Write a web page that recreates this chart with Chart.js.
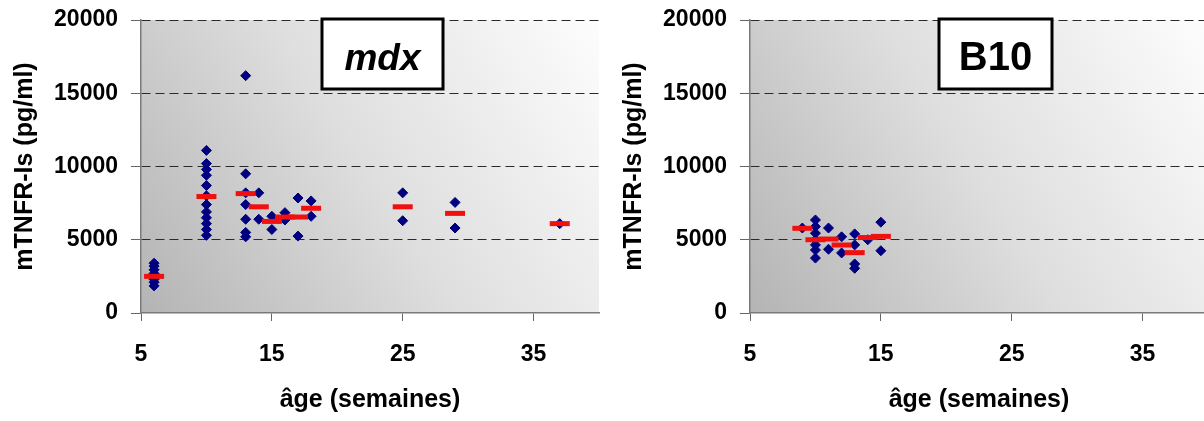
<!DOCTYPE html>
<html>
<head>
<meta charset="utf-8">
<script src="https://cdn.jsdelivr.net/npm/chart.js@4.4.1/dist/chart.umd.min.js"></script>
<style>
html,body{margin:0;padding:0;background:#fff;overflow:hidden;width:1204px;height:421px;}
canvas{position:absolute;top:0;}
#c1{left:0;}
#c2{left:600px;}
</style>
</head>
<body>
<canvas id="c1" width="600" height="421"></canvas>
<canvas id="c2" width="612" height="421"></canvas>
<script>
// ---- data ----
const xTickValues = [5, 15, 25, 35];
const yTickValues = [0, 5000, 10000, 15000, 20000];

// mdx: individual values
const mdxAges = [
  6,6,6,6,6,6,6,6,
  10,10,10,10,10,10,10,10,10,10,10,10,
  13,13,13,13,13,13,13,
  14,14,
  15,15,
  16,16,
  17,17,
  18,18,
  25,25,
  29,29,
  37
];
const mdxValues = [
  3400,3200,2950,2700,2500,2300,2100,1850,
  11100,10200,9800,9400,8700,8000,7400,6900,6500,6100,5700,5300,
  16200,9500,8200,7400,6400,5500,5200,
  8200,6400,
  6600,5700,
  6850,6350,
  7850,5250,
  7650,6600,
  8200,6300,
  7550,5800,
  6100
];
// mdx: means (red bars)
const mdxMeanAges   = [6, 10, 13, 14, 15, 16, 17, 18, 25, 29, 37];
const mdxMeanValues = [2500, 7950, 8150, 7250, 6250, 6550, 6550, 7150, 7250, 6800, 6100];

// B10: individual values
const b10Ages = [
  9,
  10,10,10,10,10,10,10,
  11,11,
  12,12,
  13,13,13,13,
  14,
  15,15
];
const b10Values = [
  5800,
  6350,5900,5450,5000,4650,4300,3750,
  5800,4350,
  5200,4100,
  5400,4650,3350,3050,
  5000,
  6200,4250
];
const b10MeanAges   = [9, 10, 11, 12, 13, 14, 15];
const b10MeanValues = [5780, 5000, 5050, 4640, 4120, 5150, 5230];

// ---- styling ----
const FONT = '"Liberation Sans", Arial, Helvetica, sans-serif';

const bgPlugin = {
  id: 'bgGrad',
  beforeDraw(chart) {
    const {ctx, chartArea: a} = chart;
    const g = ctx.createLinearGradient(a.left, a.bottom, a.right, a.top);
    g.addColorStop(0, '#b4b4b4');
    g.addColorStop(0.5, '#dfdfdf');
    g.addColorStop(1, '#fdfdfd');
    ctx.save();
    ctx.fillStyle = g;
    ctx.fillRect(a.left, a.top, a.right - a.left, a.bottom - a.top);
    ctx.restore();
  }
};

const boxPlugin = {
  id: 'labelBox',
  afterDraw(chart, args, opts) {
    const {ctx, chartArea: a} = chart;
    const x = a.left + opts.dx, y = a.top - 1, w = opts.w, h = 70;
    ctx.save();
    ctx.fillStyle = '#fff';
    ctx.fillRect(x, y, w, h);
    ctx.lineWidth = 3;
    ctx.strokeStyle = '#000';
    ctx.strokeRect(x, y, w, h);
    ctx.fillStyle = '#000';
    ctx.font = (opts.italic ? 'italic ' : '') + 'bold ' + opts.size + 'px ' + FONT;
    ctx.textAlign = 'center';
    ctx.textBaseline = 'alphabetic';
    ctx.fillText(opts.text, x + w / 2, y + 51);
    ctx.restore();
  }
};

function makeChart(id, ages, values, meanAges, meanValues, cfg) {
  const pts = ages.map((a, i) => ({x: a, y: values[i]}));
  const means = meanAges.map((a, i) => ({x: a, y: meanValues[i]}));
  return new Chart(document.getElementById(id), {
    type: 'scatter',
    data: {
      datasets: [
        {
          label: 'moyenne',
          data: means,
          order: 0,
          pointStyle: 'line',
          pointRadius: 10,
          pointBorderWidth: 5,
          borderColor: '#f01010',
          backgroundColor: '#f01010'
        },
        {
          label: 'valeurs',
          data: pts,
          order: 1,
          pointStyle: 'rectRot',
          pointRadius: 5,
          pointBorderWidth: 1,
          borderColor: '#000080',
          backgroundColor: '#000080'
        }
      ]
    },
    options: {
      responsive: false,
      animation: false,
      devicePixelRatio: 1,
      events: [],
      layout: {autoPadding: false, padding: {left: 0, right: cfg.padRight, top: 20, bottom: 0}},
      plugins: {
        legend: {display: false},
        tooltip: {enabled: false},
        labelBox: cfg.box
      },
      scales: {
        x: {
          type: 'linear',
          min: 5,
          max: 40,
          afterBuildTicks: s => { s.ticks = xTickValues.map(v => ({value: v})); },
          afterFit: s => { s.height = 108; s.paddingLeft = 0; s.paddingRight = 0; },
          grid: {drawOnChartArea: false, drawTicks: true, tickLength: 8, tickColor: '#666', tickWidth: 1},
          border: {display: true, color: '#7a7a7a', width: 1.5},
          ticks: {
            color: '#000',
            font: {family: FONT, size: 23, weight: 'bold'},
            padding: 20,
            maxRotation: 0,
            autoSkip: false,
            callback: v => String(v)
          },
          title: {
            display: true,
            text: 'âge (semaines)',
            color: '#000',
            font: {family: FONT, size: 25, weight: 'bold'},
            padding: {top: 0, bottom: 6}
          }
        },
        y: {
          type: 'linear',
          min: 0,
          max: 20000,
          afterBuildTicks: s => { s.ticks = yTickValues.map(v => ({value: v})); },
          afterFit: s => { s.width = cfg.yWidth; s.paddingTop = 0; s.paddingBottom = 0; },
          grid: {
            color: c => (c.tick && c.tick.value === 0) ? 'rgba(0,0,0,0)' : '#2a2a2a',
            lineWidth: 1,
            drawTicks: true,
            tickLength: 10,
            tickColor: '#666',
            tickWidth: 1,
            tickBorderDash: []
          },
          border: {display: true, color: '#7a7a7a', width: 1.5, dash: [9, 5]},
          ticks: {
            color: '#000',
            font: {family: FONT, size: 23, weight: 'bold'},
            padding: 13,
            callback: v => String(v)
          },
          title: {
            display: true,
            text: 'mTNFR-Is (pg/ml)',
            color: '#000',
            font: {family: FONT, size: 25, weight: 'bold'},
            padding: {top: cfg.yTitlePad, bottom: 0}
          }
        }
      }
    },
    plugins: [bgPlugin, boxPlugin]
  });
}

makeChart('c1', mdxAges, mdxValues, mdxMeanAges, mdxMeanValues, {
  padRight: 1, yWidth: 141, yTitlePad: 10,
  box: {text: 'mdx', italic: true, size: 37, dx: 181, w: 121}
});
makeChart('c2', b10Ages, b10Values, b10MeanAges, b10MeanValues, {
  padRight: 4, yWidth: 150, yTitlePad: 19,
  box: {text: 'B10', italic: false, size: 40, dx: 189, w: 113}
});
</script>
</body>
</html>
